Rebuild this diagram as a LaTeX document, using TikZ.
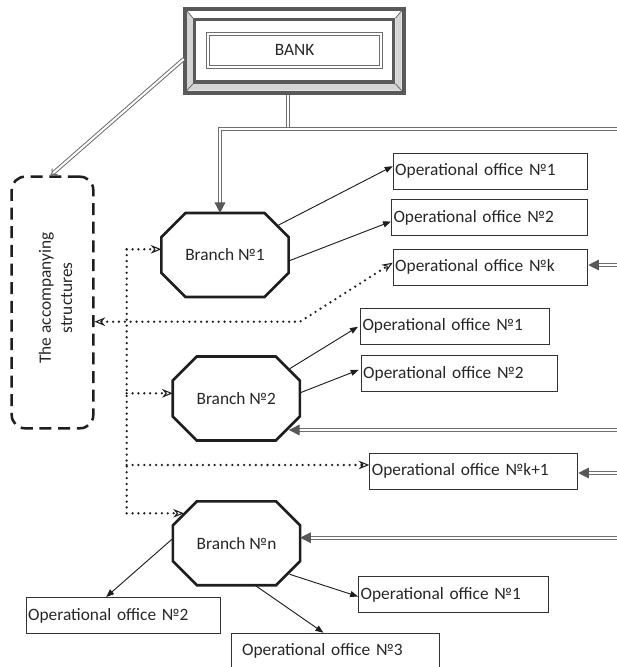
\documentclass[tikz,border=0pt]{standalone}
\usepackage{fontspec}
\setmainfont{Carlito}
\usetikzlibrary{arrows.meta,calc}
\definecolor{dblgray}{HTML}{6E6E6E}
\definecolor{tipgray}{HTML}{585858}
\definecolor{framegray}{HTML}{595959}
\definecolor{bevelgray}{HTML}{D4D4D4}
\definecolor{inkblack}{HTML}{1E1E1E}
\definecolor{textgray}{HTML}{262626}
\definecolor{boxgray}{HTML}{333333}
\newcommand\octpath[2]{%
  \draw[octline] ($(#1.north west)+(#2,0)$) -- ($(#1.north east)+(-#2,0)$)
    -- ($(#1.north east)+(0,#2)$) -- ($(#1.south east)+(0,-#2)$)
    -- ($(#1.south east)+(-#2,0)$) -- ($(#1.south west)+(#2,0)$)
    -- ($(#1.south west)+(0,-#2)$) -- ($(#1.north west)+(0,#2)$) -- cycle;}
\begin{document}
\begin{tikzpicture}[x=0.75pt,y=-0.75pt,
  font=\fontsize{13pt}{16pt}\selectfont, text=textgray,
  office/.style={draw=boxgray, line width=0.75pt, minimum height=27pt,
    inner xsep=1.5pt, inner ysep=0pt, align=left, anchor=west},
  branch/.style={draw=none, inner sep=0pt, minimum width=95pt, minimum height=62.5pt},
  octline/.style={draw=inkblack, line width=2pt, line join=miter},
  thinarrow/.style={draw=inkblack, line width=0.7pt, -{Triangle[length=6pt,width=4.5pt]}},
  dotline/.style={draw=inkblack, line width=1.9pt, line cap=round, dash pattern=on 0pt off 4.4pt},
  dottip/.style={-{Stealth[open,length=8pt,width=6.5pt,line width=0.8pt]}},
  dottipboth/.style={{Stealth[open,length=8pt,width=6.5pt,line width=0.8pt]}-{Stealth[open,length=8pt,width=6.5pt,line width=0.8pt]}},
  dbl/.style={draw=dblgray, line width=0.75pt, double=white, double distance=1.5pt},
  dbltip/.style={-{Triangle[length=8pt,width=8pt,color=tipgray]}},
  accbox/.style={draw=inkblack, line width=1.9pt, dash pattern=on 9pt off 5pt,
    rounded corners=10pt, minimum width=61.2pt, minimum height=188.7pt, inner sep=0pt}]
\useasboundingbox (0,0) rectangle (617,667);

% BANK frame
\node[draw=none, minimum width=167.25pt, minimum height=66pt, inner sep=0pt] (bank) at (294.5,51) {};
\begin{scope}[shift={(bank.north west)}]
  \fill[white] (4,4) -- (219,4) -- (212.7,11.3) -- (10.3,11.3) -- cycle;
  \fill[bevelgray] (4,4) -- (10.3,11.3) -- (10.3,77) -- (4,84) -- cycle;
  \fill[bevelgray] (4,84) -- (10.3,77) -- (212.7,77) -- (219,84) -- cycle;
  \fill[bevelgray] (219,4) -- (212.7,11.3) -- (212.7,77) -- (219,84) -- cycle;
  \draw[framegray, line width=0.5pt] (4,4) -- (10.3,11.3) (4,84) -- (10.3,77)
    (219,4) -- (212.7,11.3) (219,84) -- (212.7,77);
  \draw[framegray, line width=3pt] (2,2) rectangle (221,86);
  \draw[framegray, line width=2.6pt] (12,13) rectangle (211,75.3);
\end{scope}
\node[draw=dblgray, line width=0.75pt, double=white, double distance=1.5pt,
  minimum width=129.75pt, minimum height=25pt, inner sep=0pt] (bankin) at (294.5,50.4) {BANK};

% accompanying structures
\node[accbox] (acc) at (52.5,302.5) {};
\node[rotate=90, align=center, inner sep=0pt] (acctxt) at ($(acc.center)+(3,-4.5)$) {The accompanying\\structures};

% branches
\node[branch] (br1) at (225,255) {Branch №1};
\node[branch] (br2) at (236.3,398.5) {Branch №2};
\node[branch] (brn) at (236.5,543.3) {Branch №n};
\octpath{br1}{24}
\octpath{br2}{24}
\octpath{brn}{24}

% offices
\node[office, text width=142.95pt] (a1) at (392.7,171.2) {Operational office №1};
\node[office, text width=144.2pt] (a2) at (391,217.5) {Operational office №2};
\node[office, text width=142.95pt] (ak) at (392.7,267.2) {Operational office №k};
\node[office, text width=139pt] (b1) at (360,326.2) {Operational office №1};
\node[office, text width=144pt] (b2) at (360.7,373.9) {Operational office №2};
\node[office, text width=153pt] (bk) at (369.3,471.3) {Operational office №k+1};
\node[office, text width=139.6pt] (c1) at (358.1,594.5) {Operational office №1};
\node[office, text width=142.5pt] (c2) at (25.6,615.5) {Operational office №2};
\node[office, text width=139.9pt, inner xsep=8pt] (c3) at (231,651.2) {Operational office №3};

% double connectors
\coordinate (hl) at (220,129);
\coordinate (hj) at (288,129);
\coordinate (hr) at (620,129);
\draw[dbl] (bank.south -| hj) -- (hj);
\draw[dbl,dbltip] (hr) -- (hl) -- (hl |- br1.north);
\coordinate (r1) at (620,265);
\coordinate (r2) at (620,430);
\coordinate (r3) at (620,473);
\coordinate (r4) at (620,537.7);
\draw[dbl,dbltip] (r1) -- (r1 -| ak.east);
\draw[dbl,dbltip] (r2) -- ($(r2 -| br2.east)+(-11,0)$);
\draw[dbl,dbltip] (r3) -- (r3 -| bk.east);
\draw[dbl,dbltip] (r4) -- (r4 -| brn.east);
\draw[dbl,-Implies] ($(bank.west)+(1,8)$) -- ($(acc.north)+(-2,0)$);

% thin arrows
\draw[thinarrow] ($(br1.north east)+(-10,12)$) -- ($(a1.west)+(0,-5)$);
\draw[thinarrow] ($(br1.east)+(0,6)$) -- ($(a2.west)+(0,4)$);
\draw[thinarrow] ($(br2.north east)+(-10,12)$) -- ($(b1.west)+(-2,0.5)$);
\draw[thinarrow] ($(br2.east)+(1,-6)$) -- ($(b2.west)+(-2,-4)$);
\draw[thinarrow] ($(brn.west)+(-1,-4)$) -- ($(c2.north)+(-17,0)$);
\draw[thinarrow] ($(brn.south east)+(-10.6,-11)$) -- ($(c1.west)+(0,2)$);
\draw[thinarrow] ($(brn.south)+(18.5,0)$) -- ($(c3.north)+(-12,0)$);

% dotted connectors
\coordinate (dtop) at (126.7,249.3);
\coordinate (dv2) at (126.7,393.3);
\coordinate (dv3) at (126.7,465);
\coordinate (dbot) at (126.7,513.3);
\coordinate (dmid) at (300,321.7);
\draw[dotline,dottip] (dtop) -- (dbot) -- ($(dbot -| brn.west)+(11,0)$);
\draw[dotline,dottip] (dtop) -- (dtop -| br1.west);
\draw[dotline,dottip] (dv2) -- (dv2 -| br2.west);
\draw[dotline,dottip] (dv3) -- (dv3 -| bk.west);
\draw[dotline,dottipboth] (acc.east |- dmid) -- (dmid) -- ($(ak.west)+(0,-4.5)$);
\end{tikzpicture}
\end{document}
